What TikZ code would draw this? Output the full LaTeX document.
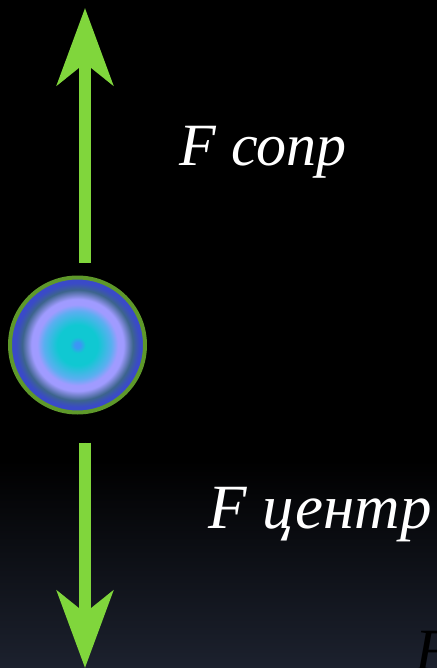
\documentclass[tikz,border=0pt]{standalone}
\usepackage{fontspec}
\setmainfont{Liberation Serif}
\usetikzlibrary{arrows.meta, positioning, calc}
\usepackage{xcolor}

\definecolor{forcegreen}{RGB}{128,214,60}
\definecolor{rimgreen}{RGB}{94,152,42}
\definecolor{bgnavy}{RGB}{28,33,46}
\definecolor{ballcore}{RGB}{60,150,245}
\definecolor{ballcyan}{RGB}{16,200,210}
\definecolor{ballsky}{RGB}{90,175,240}
\definecolor{ballviolet}{RGB}{160,155,255}
\definecolor{ballslate}{RGB}{60,100,140}
\definecolor{ballblue}{RGB}{58,74,200}

\pgfdeclareradialshading{ballshade}{\pgfpoint{0bp}{0bp}}{%
  color(0bp)=(ballcore); color(1bp)=(ballcore); color(3bp)=(ballcyan);
  color(7.5bp)=(ballcyan); color(12.5bp)=(ballsky); color(15bp)=(ballviolet);
  color(17bp)=(ballviolet); color(20.5bp)=(ballslate); color(23bp)=(ballblue);
  color(50bp)=(ballblue)}

\begin{document}
\begin{tikzpicture}[x=0.5pt, y=-0.5pt,
  ball/.style={circle, draw=rimgreen, line width=2pt, minimum size=67.5pt,
    inner sep=0pt, shading=ballshade},
  force/.style={-{Stealth[length=38.5pt, width=28pt, inset=11pt]},
    line width=6pt, draw=forcegreen, fill=forcegreen},
  lbl/.style={text=white, font=\fontsize{30}{36}\selectfont\itshape,
    inner sep=0pt, anchor=base west}
]

% фон
\useasboundingbox (0,0) rectangle (437,668);
\clip (0,0) rectangle (437,668);
\fill [black] (0,0) rectangle (437,668);
\shade [top color=black, bottom color=bgnavy] (0,460) rectangle (437,668);

% шарик
\node (ball) [ball] at (77.5,345) {};

% концы стрелок
\coordinate (up) at (85,8);
\coordinate (down) at (85,668);

% силы
\draw [force, shorten <=6.25pt] (ball.north -| up) -- (up);
\draw [force, shorten <=14pt] (ball.south -| down) -- (down);

% подписи
\node (drag) [lbl] at (179,166) {F сопр};
\node (centr) [lbl, font=\fontsize{31.5}{36}\selectfont\itshape] at (208,528) {F центр};
\node (cut) [lbl, text=black] at (415,670) {F};

\end{tikzpicture}
\end{document}
